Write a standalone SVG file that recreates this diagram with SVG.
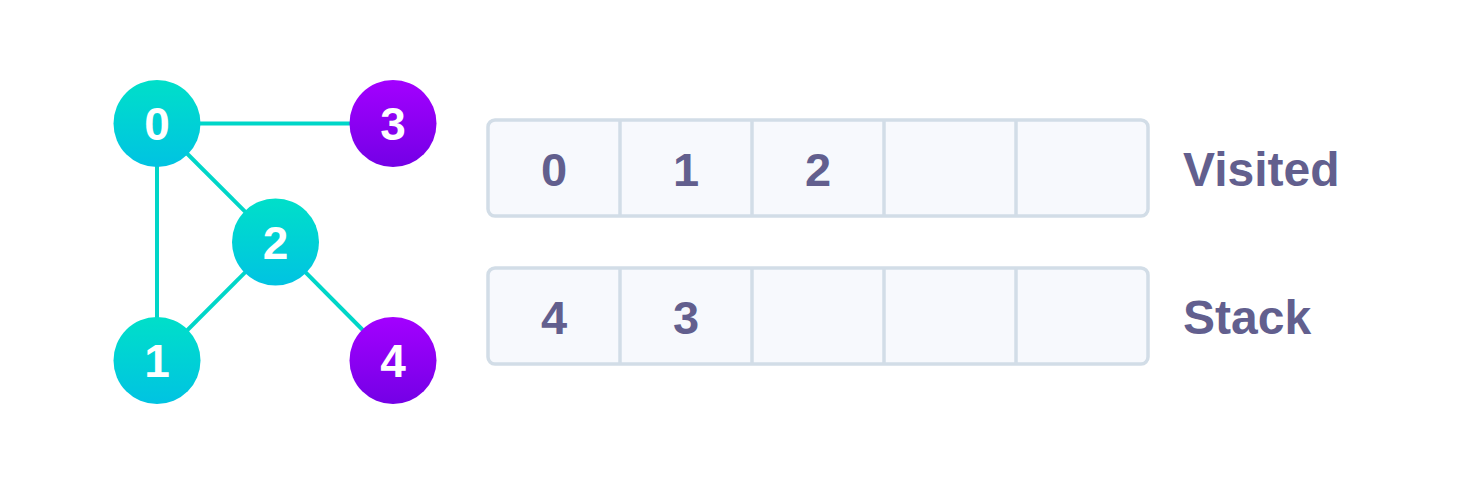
<svg xmlns="http://www.w3.org/2000/svg" width="1460" height="484" viewBox="0 0 1460 484">
<defs>
<linearGradient id="teal" x1="0" y1="0" x2="0" y2="1">
<stop offset="0" stop-color="#00dfc9"/>
<stop offset="1" stop-color="#00c3e2"/>
</linearGradient>
<linearGradient id="purple" x1="0" y1="0" x2="0" y2="1">
<stop offset="0" stop-color="#a300ff"/>
<stop offset="1" stop-color="#7400e6"/>
</linearGradient>
</defs>
<style>
.edge{stroke:#00d6c8;stroke-width:4;fill:none}
.visited{fill:url(#teal)}
.stacked{fill:url(#purple)}
.nl{font-family:"Liberation Sans",Arial,sans-serif;font-weight:bold;font-size:46px;fill:#ffffff;text-anchor:middle}
.box{fill:#f7f9fd;stroke:#d2dde7;stroke-width:3.5}
.div{stroke:#d2dde7;stroke-width:3.5}
.ct{font-family:"Liberation Sans",Arial,sans-serif;font-weight:bold;font-size:47px;fill:#625f8e;text-anchor:middle}
.lab{font-family:"Liberation Sans",Arial,sans-serif;font-weight:bold;font-size:48px;fill:#625f8e}
</style>
<rect width="1460" height="484" fill="#ffffff"/>
<g id="connectors">
<line class="edge" x1="157" y1="123.5" x2="393" y2="123.5"/>
<line class="edge" x1="157" y1="123.5" x2="157" y2="360.5"/>
<line class="edge" x1="157" y1="123.5" x2="275.5" y2="242"/>
<line class="edge" x1="275.5" y1="242" x2="157" y2="360.5"/>
<line class="edge" x1="275.5" y1="242" x2="393" y2="360.5"/>
</g>
<g id="node0"><circle class="visited" cx="157" cy="123.5" r="43.5"/><text class="nl" x="157" y="140">0</text></g>
<g id="node3"><circle class="stacked" cx="393" cy="123.5" r="43.5"/><text class="nl" x="393" y="140">3</text></g>
<g id="node2"><circle class="visited" cx="275.5" cy="242" r="43.5"/><text class="nl" x="275.5" y="258.5">2</text></g>
<g id="node1"><circle class="visited" cx="157" cy="360.5" r="43.5"/><text class="nl" x="157" y="377">1</text></g>
<g id="node4"><circle class="stacked" cx="393" cy="360.5" r="43.5"/><text class="nl" x="393" y="377">4</text></g>
<g id="visited-array">
<rect class="box" x="488" y="120" width="660" height="96" rx="7"/>
<line class="div" x1="620" y1="120" x2="620" y2="216"/>
<line class="div" x1="752" y1="120" x2="752" y2="216"/>
<line class="div" x1="884" y1="120" x2="884" y2="216"/>
<line class="div" x1="1016" y1="120" x2="1016" y2="216"/>
<text class="ct" x="554" y="186">0</text>
<text class="ct" x="686" y="186">1</text>
<text class="ct" x="818" y="186">2</text>
<text class="lab" x="1183" y="186">Visited</text>
</g>
<g id="stack-array">
<rect class="box" x="488" y="268" width="660" height="96" rx="7"/>
<line class="div" x1="620" y1="268" x2="620" y2="364"/>
<line class="div" x1="752" y1="268" x2="752" y2="364"/>
<line class="div" x1="884" y1="268" x2="884" y2="364"/>
<line class="div" x1="1016" y1="268" x2="1016" y2="364"/>
<text class="ct" x="554" y="334">4</text>
<text class="ct" x="686" y="334">3</text>
<text class="lab" x="1183" y="334">Stack</text>
</g>
</svg>
